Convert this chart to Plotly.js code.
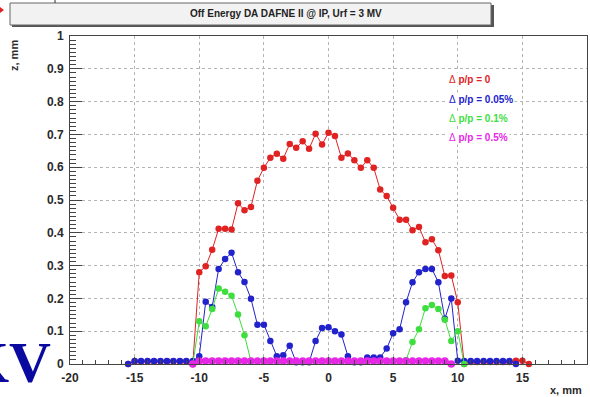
<!DOCTYPE html>
<html>
<head>
<meta charset="utf-8">
<script src="https://cdn.plot.ly/plotly-3.0.1.min.js"></script>
<style>html,body{margin:0;padding:0;background:#fff;}#chart{width:590px;height:397px;}</style>
</head>
<body>
<div id="chart"></div>
<script>
// ---- data ----
var redX = [-15.5,-15,-14.5,-14,-13.5,-13,-12.5,-12,-11.5,-11,-10.5,-10,-9.5,-9,-8.5,-8,-7.5,-7,-6.5,-6,-5.5,-5,-4.5,-4,-3.5,-3,-2.5,-2,-1.5,-1,-0.5,0,0.5,1,1.5,2,2.5,3,3.5,4,4.5,5,5.5,6,6.5,7,7.5,8,8.5,9,9.5,10,10.5,11,11.5,12,12.5,13,13.5,14,14.5,15,15.5];
var redY = [0,0.008,0.008,0.008,0.008,0.008,0.008,0.008,0.008,0.008,0,0.28,0.298,0.348,0.412,0.412,0.41,0.49,0.469,0.479,0.559,0.598,0.629,0.641,0.626,0.671,0.659,0.679,0.656,0.702,0.669,0.705,0.695,0.629,0.642,0.621,0.598,0.621,0.598,0.532,0.512,0.476,0.44,0.44,0.408,0.418,0.371,0.38,0.347,0.268,0.27,0.188,0,0.006,0.006,0.006,0.006,0.006,0.006,0.006,0.01,0.01,0];

var blueX = [-15.5,-15,-14.5,-14,-13.5,-13,-12.5,-12,-11.5,-11,-10.5,-10,-9.5,-9,-8.5,-8,-7.5,-7,-6.5,-6,-5.5,-5,-4.5,-4,-3.5,-3,-2.5,-2,-1.5,-1,-0.5,0,0.5,1,1.5,2,2.5,3,3.5,4,4.5,5,5.5,6,6.5,7,7.5,8,8.5,9,9.5,10,10.5,11,11.5,12,12.5,13,13.5,14,14.5];
var blueY = [0,0.009,0.009,0.009,0.009,0.009,0.009,0.009,0.009,0.009,0.009,0.024,0.19,0.174,0.29,0.32,0.339,0.28,0.25,0.199,0.12,0.12,0.07,0.024,0.027,0.056,0.005,0.005,0.005,0.07,0.11,0.112,0.1,0.09,0.024,0.005,0.005,0.02,0.02,0.02,0.047,0.094,0.106,0.188,0.249,0.28,0.29,0.29,0.249,0.138,0.2,0.01,0.009,0.009,0.009,0.009,0.009,0.009,0.009,0.009,0];

var greenX = [-10.5,-10,-9.5,-9,-8.5,-8,-7.5,-7,-6.5,-6,-5.5,-5,-4.5,-4,-3.5,-3,-2.5,-2,-1.5,-1,-0.5,0,0.5,1,1.5,2,2.5,3,3.5,4,4.5,5,5.5,6,6.5,7,7.5,8,8.5,9,9.5,10,10.5];
var greenY = [0,0.13,0.115,0.168,0.23,0.22,0.208,0.151,0.088,0.008,0.008,0.008,0.008,0.008,0.008,0.008,0.008,0.008,0.008,0.008,0.008,0.008,0.008,0.008,0.008,0.008,0.008,0.008,0.008,0.008,0.008,0.008,0.008,0.012,0.067,0.106,0.17,0.18,0.168,0.135,0.07,0.1,0];

var magX = [-10.5,-10,-9.5,-9,-8.5,-8,-7.5,-7,-6.5,-6,-5.5,-5,-4.5,-4,-3.5,-3,-2.5,-2,-1.5,-1,-0.5,0,0.5,1,1.5,2,2.5,3,3.5,4,4.5,5,5.5,6,6.5,7,7.5,8,8.5,9,9.5];
var magY = [0,0.009,0.009,0.009,0.009,0.009,0.009,0.009,0.009,0.009,0.009,0.009,0.009,0.009,0.009,0.009,0.009,0.009,0.009,0.009,0.009,0.009,0.009,0.009,0.009,0.009,0.009,0.009,0.009,0.009,0.009,0.009,0.009,0.009,0.009,0.009,0.009,0.009,0.009,0.009,0];

var xTickVals = [-20,-15,-10,-5,0,5,10,15,20];
var xTickText = ["-20","-15","-10","-5","0","5","10","15","20"];
var yTickVals = [0,0.1,0.2,0.3,0.4,0.5,0.6,0.7,0.8,0.9,1];
var yTickText = ["0","0.1","0.2","0.3","0.4","0.5","0.6","0.7","0.8","0.9","1"];

var seriesDelta = "\u0394";
var seriesLabels = ["p/p = 0","p/p = 0.05%","p/p = 0.1%","p/p = 0.5%"];
var seriesColors = ["#e02222","#2222cc","#3ede3e","#e627e6"];
var titleText = "Off Energy DA DAFNE II @ IP, Urf = 3 MV";

// ---- geometry helpers (pixel -> paper) ----
var L = 70, R = 3, T = 36, B = 33, W = 590, H = 397;
var pw = W - L - R, ph = H - T - B;
function px(x){ return (x - L) / pw; }
function py(y){ return (H - B - y) / ph; }

var xs = [redX, blueX, greenX, magX], ys = [redY, blueY, greenY, magY];
var markerSizes = [6.5, 6.5, 6.5, 7.5], lineWidths = [1, 1, 1, 4];
var traces = xs.map(function(xx, i){
  return {x: xx, y: ys[i], type: 'scatter', mode: 'lines+markers', name: seriesDelta + ' ' + seriesLabels[i],
    line: {color: seriesColors[i], width: lineWidths[i]},
    marker: {color: seriesColors[i], size: markerSizes[i], symbol: 'circle'},
    cliponaxis: false, showlegend: false};
});

var baseFont = {family: 'Liberation Sans, Arial, sans-serif', size: 11, color: '#2a2a2a', weight: 'bold'};
var tickFont = {family: 'Liberation Sans, Arial, sans-serif', size: 12, color: '#2a2a2a', weight: 'bold'};

var annotations = [
  {text: titleText, xref: 'paper', yref: 'paper', x: px(286), y: py(14), xanchor: 'center', yanchor: 'middle', showarrow: false,
   font: {family: 'Liberation Sans, Arial, sans-serif', size: 10, color: '#222', weight: 'bold'}},
  {text: 'z, mm', xref: 'paper', yref: 'paper', x: px(14), y: py(56), textangle: -90, xanchor: 'center', yanchor: 'middle', showarrow: false, font: baseFont},
  {text: 'x, mm', xref: 'paper', yref: 'paper', x: px(566), y: py(390), xanchor: 'center', yanchor: 'middle', showarrow: false, font: baseFont},
  {text: 'KV', xref: 'paper', yref: 'paper', x: px(53), y: py(362), xanchor: 'right', yanchor: 'middle', showarrow: false,
   font: {family: 'Liberation Serif, Times New Roman, serif', size: 58, color: '#0a0aa0', weight: 'bold'}}
];
var legendY = [79, 100, 118, 137];
seriesLabels.forEach(function(n, i){
  annotations.push({text: seriesDelta + '\u00a0<b>' + n + '</b>', xref: 'paper', yref: 'paper', x: px(447), y: py(legendY[i]), xanchor: 'left', yanchor: 'middle', showarrow: false,
    bgcolor: '#ffffff', borderpad: 1,
    font: {family: 'Liberation Sans, Arial, sans-serif', size: 10, color: seriesColors[i], weight: 'normal'}});
});

var shapes = [
  {type: 'rect', xref: 'paper', yref: 'paper', x0: px(437), x1: px(560), y0: py(148), y1: py(67), fillcolor: '#ffffff', line: {width: 0}, layer: 'between'},
  {type: 'rect', xref: 'paper', yref: 'paper', x0: px(12), x1: px(494), y0: py(27), y1: py(5), fillcolor: '#555', line: {width: 0}, layer: 'above'},
  {type: 'rect', xref: 'paper', yref: 'paper', x0: px(10), x1: px(491), y0: py(25), y1: py(3), fillcolor: '#f2f2f2', line: {color: '#666', width: 1}, layer: 'above'},
  {type: 'line', xref: 'paper', yref: 'paper', x0: px(55), x1: px(55), y0: py(0), y1: py(3), line: {color: '#333', width: 1}},
  {type: 'path', xref: 'paper', yref: 'paper', path: 'M ' + px(0) + ' ' + py(7) + ' L ' + px(4) + ' ' + py(10) + ' L ' + px(0) + ' ' + py(13) + ' Z', fillcolor: '#e02222', line: {width: 0}}
];

var layout = {
  width: W, height: H,
  margin: {l: L, r: R, t: T, b: B, pad: 0},
  paper_bgcolor: '#ffffff', plot_bgcolor: '#ffffff',
  showlegend: false,
  xaxis: {range: [-20, 20], tickmode: 'array', tickvals: xTickVals, ticktext: xTickText,
    ticks: 'inside', ticklen: 7, tickcolor: '#444', showline: true, linecolor: '#444', linewidth: 1, mirror: true,
    showgrid: true, gridcolor: '#b4b4b4', griddash: '3px,3px', gridwidth: 1, zeroline: false,
    tickfont: tickFont, ticklabelstandoff: 3,
    minor: {dtick: 1, ticks: 'inside', ticklen: 4, tickcolor: '#444', showgrid: false}},
  yaxis: {range: [0, 1], tickmode: 'array', tickvals: yTickVals, ticktext: yTickText,
    ticks: 'inside', ticklen: 12, tickcolor: '#444', showline: true, linecolor: '#444', linewidth: 1, mirror: true,
    showgrid: true, gridcolor: '#b4b4b4', griddash: '3px,3px', gridwidth: 1, zeroline: false,
    tickfont: tickFont, ticklabelstandoff: 3,
    minor: {tick0: 0, dtick: 0.0125, ticks: 'inside', ticklen: 6, tickcolor: '#444', showgrid: false}},
  annotations: annotations,
  shapes: shapes
};

Plotly.newPlot('chart', traces, layout, {staticPlot: true, displayModeBar: false});
</script>
</body>
</html>
